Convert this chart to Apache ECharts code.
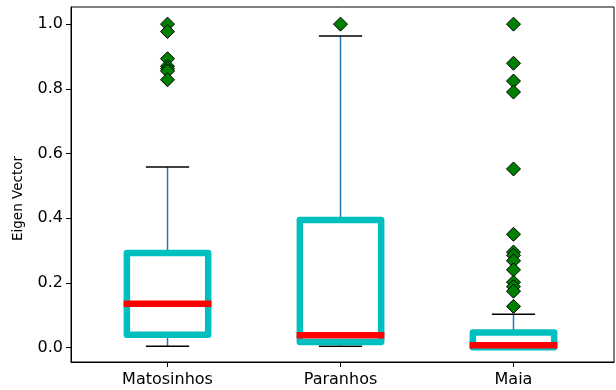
<!DOCTYPE html>
<html>
<head>
<meta charset="utf-8">
<script src="https://cdn.jsdelivr.net/npm/echarts@6/dist/echarts.min.js"></script>
<style>
  html, body { margin: 0; padding: 0; background: #fff; }
  #chart { width: 616px; height: 390px; }
</style>
</head>
<body>
<div id="chart"></div>
<script>
// Box statistics per district
const categories = ['Matosinhos', 'Paranhos', 'Maia'];
const positions = [1, 2, 3];
const whiskerLow = [0.004, 0.004, 0.0];
const q1 = [0.039, 0.017, 0.001];
const medians = [0.135, 0.038, 0.007];
const q3 = [0.292, 0.394, 0.046];
const whiskerHigh = [0.558, 0.963, 0.103];

// Outlying eigenvector centralities
const outliersMatosinhos = [1.0, 0.977, 0.893, 0.870, 0.862, 0.855, 0.828];
const outliersParanhos = [1.0];
const outliersMaia = [1.0, 0.879, 0.824, 0.790, 0.552, 0.350, 0.295, 0.285, 0.268, 0.240, 0.202, 0.188, 0.174, 0.127];

const yTicks = [0, 0.2, 0.4, 0.6, 0.8, 1.0];

const FONT = 'DejaVu Sans';

const boxData = positions.map((p, i) => [p, whiskerLow[i], q1[i], medians[i], q3[i], whiskerHigh[i]]);
const outlierSets = [outliersMatosinhos, outliersParanhos, outliersMaia];
const flierData = [];
outlierSets.forEach((set, i) => set.forEach(v => flierData.push([positions[i], v])));

const BOX_HALF = 0.235;   // half box width in axis units
const CAP_HALF = 0.125;   // half cap width in axis units
const BOX_LW = 6.5;

function renderBox(params, api) {
  const x = api.value(0);
  const lo = api.value(1), a = api.value(2), m = api.value(3), b = api.value(4), hi = api.value(5);
  const unit = api.size([1, 0])[0];
  const cx = api.coord([x, 0])[0];
  const yLo = api.coord([x, lo])[1];
  const yA = api.coord([x, a])[1];
  const yM = api.coord([x, m])[1];
  const yB = api.coord([x, b])[1];
  const yHi = api.coord([x, hi])[1];
  const hb = BOX_HALF * unit;
  const hc = CAP_HALF * unit;
  const whisker = { stroke: '#1f77b4', lineWidth: 1.5 };
  const cap = { stroke: '#000', lineWidth: 1.5 };
  return {
    type: 'group',
    children: [
      { type: 'line', shape: { x1: cx, y1: yA, x2: cx, y2: yLo }, style: whisker },
      { type: 'line', shape: { x1: cx, y1: yB, x2: cx, y2: yHi }, style: whisker },
      { type: 'line', shape: { x1: cx - hc, y1: yLo, x2: cx + hc, y2: yLo }, style: cap },
      { type: 'line', shape: { x1: cx - hc, y1: yHi, x2: cx + hc, y2: yHi }, style: cap },
      {
        type: 'rect',
        shape: { x: cx - hb, y: yB, width: 2 * hb, height: yA - yB },
        style: { fill: 'none', stroke: '#00bfbf', lineWidth: BOX_LW, lineJoin: 'round' }
      },
      {
        type: 'line',
        shape: { x1: cx - hb - BOX_LW / 2, y1: yM, x2: cx + hb + BOX_LW / 2, y2: yM },
        style: { stroke: '#ff0000', lineWidth: BOX_LW, lineCap: 'butt' }
      }
    ]
  };
}

const chart = echarts.init(document.getElementById('chart'), null, { renderer: 'canvas' });
chart.setOption({
  animation: false,
  backgroundColor: '#fff',
  grid: {
    left: 71, right: 2, top: 7, bottom: 28,
    show: true, borderColor: '#000', borderWidth: 1, backgroundColor: 'transparent'
  },
  xAxis: {
    type: 'value',
    min: 0.442,
    max: 3.581,
    splitLine: { show: false },
    axisLine: { show: true, onZero: false, lineStyle: { color: '#000', width: 1 } },
    axisTick: { show: true, length: 5, customValues: positions, lineStyle: { color: '#000' } },
    axisLabel: {
      customValues: positions,
      formatter: v => categories[Math.round(v) - 1],
      fontFamily: FONT, fontSize: 16, color: '#000', margin: 10
    }
  },
  yAxis: {
    type: 'value',
    min: -0.045,
    max: 1.053,
    name: 'Eigen Vector',
    nameLocation: 'middle',
    nameGap: 46,
    nameRotate: 90,
    nameTextStyle: { fontFamily: FONT, fontSize: 13.5, color: '#000', padding: [0, 28, 0, 0] },
    splitLine: { show: false },
    axisLine: { show: true, onZero: false, lineStyle: { color: '#000', width: 1 } },
    axisTick: { show: true, length: 5, customValues: yTicks, lineStyle: { color: '#000' } },
    axisLabel: {
      customValues: yTicks,
      formatter: v => v.toFixed(1),
      fontFamily: FONT, fontSize: 16, color: '#000', margin: 8
    }
  },
  series: [
    {
      type: 'custom',
      renderItem: renderBox,
      data: boxData,
      encode: { x: 0, y: [1, 2, 3, 4, 5] },
      z: 2
    },
    {
      type: 'scatter',
      data: flierData,
      symbol: 'diamond',
      symbolSize: 14,
      itemStyle: { color: '#008000', borderColor: '#000', borderWidth: 1, opacity: 1 },
      z: 3
    }
  ]
});
</script>
</body>
</html>
